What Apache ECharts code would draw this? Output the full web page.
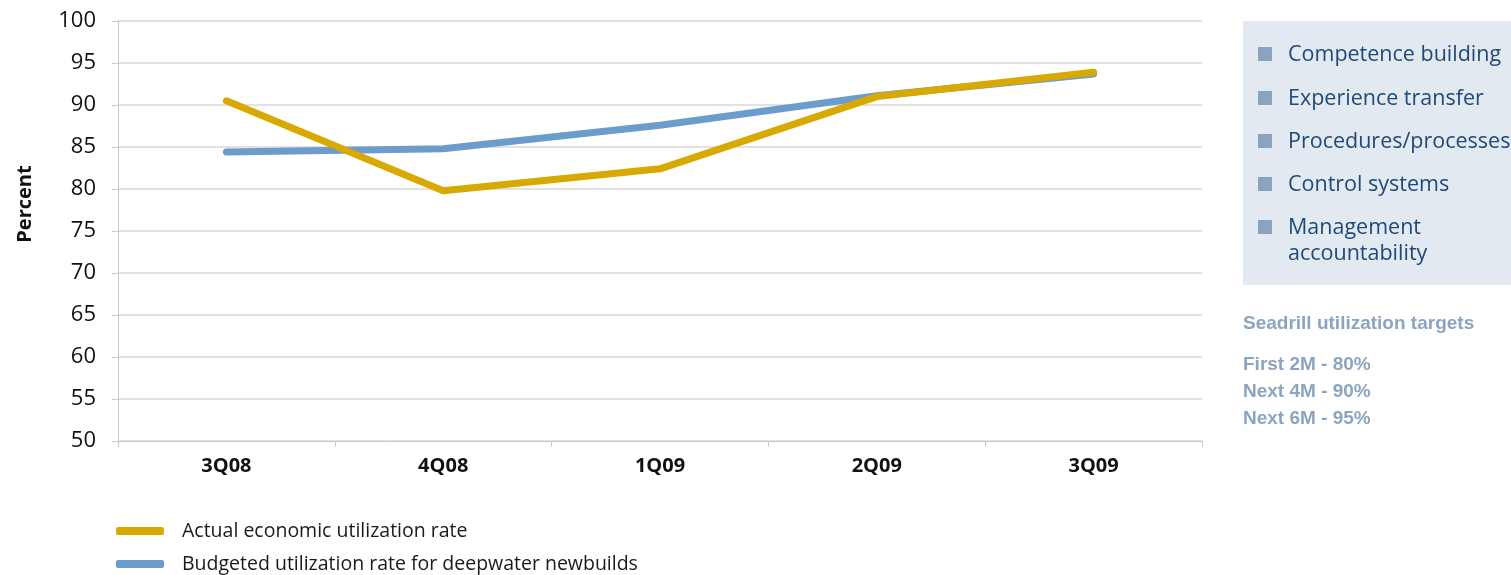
<!DOCTYPE html>
<html>
<head>
<meta charset="utf-8">
<script src="https://cdn.jsdelivr.net/npm/echarts@6/dist/echarts.min.js"></script>
<style>
  html, body { margin: 0; padding: 0; background: #fff; }
  #chart { width: 1511px; height: 575px; }
</style>
</head>
<body>
<div id="chart"></div>
<script>
// Quarterly utilization of deepwater newbuilds (percent)
const quarters = ['3Q08', '4Q08', '1Q09', '2Q09', '3Q09'];
const actualRate = [90.5, 79.8, 82.4, 91.0, 93.9];
const budgetedRate = [84.4, 84.8, 87.6, 91.1, 93.7];
const seriesNames = ['Actual economic utilization rate', 'Budgeted utilization rate for deepwater newbuilds'];

// Side panel content
const focusAreas = ['Competence building', 'Experience transfer', 'Procedures/processes', 'Control systems', 'Management\naccountability'];
const targetsTitle = 'Seadrill utilization targets';
const targets = ['First 2M - 80%', 'Next 4M - 90%', 'Next 6M - 95%'];

const GOLD = '#d8a900';
const BLUE = '#6b9ccc';
const FONT = '"Open Sans", "Noto Sans", sans-serif';
const BOLD_SANS = 'bold 19px "Liberation Sans", Arial, sans-serif';

const chart = echarts.init(document.getElementById('chart'), null, { renderer: 'canvas' });

// Side panel graphics
const panelX = 1243, panelY = 21, panelW = 268, panelH = 264;
const graphics = [{
  type: 'rect', shape: { x: panelX, y: panelY, width: panelW, height: panelH },
  style: { fill: '#e3e9f0' }, silent: true
}];
const rowY = [54, 98, 141, 184, 227];
focusAreas.forEach((t, i) => {
  graphics.push({
    type: 'rect', shape: { x: 1258, y: rowY[i] - 7, width: 14, height: 14 },
    style: { fill: '#8aa3bf' }, silent: true
  });
  graphics.push({
    type: 'text', x: 1288, y: rowY[i] - 12,
    style: { text: t, fill: '#1d4a7a', font: '21.5px ' + FONT, lineHeight: 26, textVerticalAlign: 'top' },
    silent: true
  });
});
graphics.push({
  type: 'text', x: 1243, y: 314,
  style: { text: targetsTitle, fill: '#8ba5bf', font: BOLD_SANS },
  silent: true
});
targets.forEach((t, i) => {
  graphics.push({
    type: 'text', x: 1243, y: 355 + i * 27,
    style: { text: t, fill: '#8ba5bf', font: BOLD_SANS },
    silent: true
  });
});
// Y axis title
graphics.push({
  type: 'text', x: 25, y: 204, rotation: Math.PI / 2,
  style: { text: 'Percent', fill: '#111', font: 'bold 20px ' + FONT, textAlign: 'center', textVerticalAlign: 'middle' },
  silent: true
});

const legendCommon = {
  left: 111, itemWidth: 48, itemHeight: 8, icon: 'roundRect',
  textStyle: { fontSize: 19.5, color: '#1a1a1a', fontFamily: FONT, padding: [0, 0, 0, 13] }
};

chart.setOption({
  animation: false,
  textStyle: { fontFamily: FONT },
  grid: { left: 118, top: 21, right: 309, bottom: 134, containLabel: false },
  legend: [
    Object.assign({ top: 516, data: [seriesNames[0]] }, legendCommon),
    Object.assign({ top: 549, data: [seriesNames[1]] }, legendCommon)
  ],
  xAxis: {
    type: 'category', data: quarters, boundaryGap: true,
    axisLine: { lineStyle: { color: '#c8c8c8', width: 1 } },
    axisTick: { show: true, length: 6, lineStyle: { color: '#c8c8c8' } },
    axisLabel: { color: '#111', fontWeight: 'bold', fontSize: 20, margin: 15, fontFamily: FONT }
  },
  yAxis: {
    type: 'value', min: 50, max: 100, interval: 5,
    axisLine: { show: true, lineStyle: { color: '#c8c8c8' } },
    axisTick: { show: true, length: 6, inside: false, lineStyle: { color: '#c8c8c8' } },
    axisLabel: { color: '#111', fontSize: 22, margin: 22, fontFamily: FONT },
    splitLine: { lineStyle: { color: '#d9d9d9', width: 1.5 } }
  },
  series: [
    {
      name: seriesNames[1], type: 'line', data: budgetedRate, z: 2,
      showSymbol: false, symbol: 'none',
      lineStyle: { color: BLUE, width: 7, cap: 'round', join: 'round' },
      itemStyle: { color: BLUE }
    },
    {
      name: seriesNames[0], type: 'line', data: actualRate, z: 3,
      showSymbol: false, symbol: 'none',
      lineStyle: { color: GOLD, width: 7, cap: 'round', join: 'round' },
      itemStyle: { color: GOLD }
    }
  ],
  graphic: graphics
});
</script>
</body>
</html>
